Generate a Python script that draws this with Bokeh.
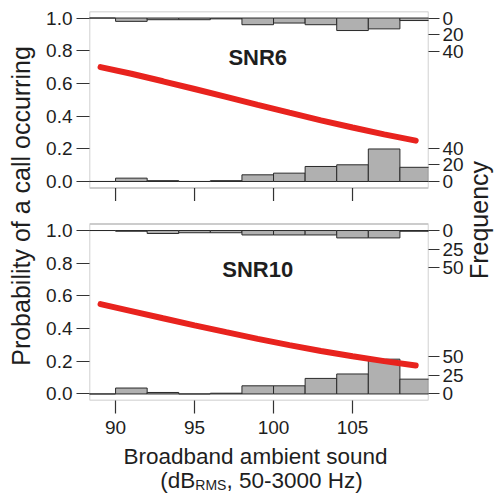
import math
from bokeh.plotting import figure
from bokeh.layouts import column, row
from bokeh.models import FixedTicker, LinearAxis, Range1d, BoxAnnotation, Label
from bokeh.embed import file_html
from bokeh.resources import INLINE

# ---------------- data ----------------
bin_edges = [88, 90, 92, 94, 96, 98, 100, 102, 104, 106, 108, 110]
snr6_no_call = [0, 4, 1, 0, 1, 8, 10, 18, 20, 39, 17]
snr6_call = [0, 4, 2, 2, 1, 8, 6, 8, 15, 13, 3]
snr10_no_call = [0, 8, 2, 0, 1, 11, 11, 21, 27, 47, 20]
snr10_call = [0, 1, 4, 3, 3, 6, 6, 6, 10, 10, 1]
curve_x = [89.05, 91, 93, 95, 97, 99, 101, 103, 105, 107, 109]
snr6_prob = [0.70, 0.659, 0.613, 0.566, 0.518, 0.469, 0.421, 0.374, 0.330, 0.288, 0.250]
snr10_prob = [0.55, 0.507, 0.463, 0.420, 0.378, 0.337, 0.299, 0.263, 0.231, 0.201, 0.174]
x_ticks = [90, 95, 100, 105]
prob_ticks = [0.0, 0.2, 0.4, 0.6, 0.8, 1.0]
snr6_freq_ticks = [0, 20, 40]
snr10_freq_ticks = [0, 25, 50]
panel_names = ["SNR6", "SNR10"]
y_title = "Probability of a call occurring"
y2_title = "Frequency"
x_title_1 = "Broadband ambient sound"
x_title_2 = ["(dB", "RMS", ", 50-3000 Hz)"]

# ---------------- layout constants (page pixels) ----------------
PW, PH = 494, 497
MW, MH = 466, 444          # main figure
FL, FT, FW, FH = 89, 11, 339, 389
X0, X1 = 88.35, 109.81
Y0, Y1 = -0.04, 2.34
OFF = 1.30                 # vertical offset of the upper panel
K6, K10 = 0.0051, 0.00453  # histogram count -> probability scale
FONT = "Liberation Sans"
TXT = "#1e1e1e"
AX = "#333333"


def style_axis(a, tick_out, standoff):
    a.major_tick_out = tick_out
    a.major_tick_in = 0
    a.minor_tick_out = 0
    a.minor_tick_in = 0
    a.axis_line_color = None
    a.major_tick_line_color = AX
    a.major_tick_line_width = 1.2
    a.major_label_text_font = FONT
    a.major_label_text_font_size = "19px"
    a.major_label_text_color = TXT
    a.major_label_standoff = standoff


p = figure(width=MW, height=MH, x_range=Range1d(X0, X1), y_range=Range1d(Y0, Y1),
           output_backend="svg", toolbar_location=None, title=None,
           min_border_left=FL, min_border_right=MW - FL - FW,
           min_border_top=FT, min_border_bottom=MH - FT - FH)
p.grid.visible = False
p.outline_line_color = None

# bottom x axis
xa = p.xaxis[0]
xa.ticker = FixedTicker(ticks=x_ticks)
style_axis(xa, 13, 7)

# left y axis
lt, lo = [], {}
for off in (0.0, OFF):
    for t in prob_ticks:
        v = round(t + off, 6)
        lt.append(v)
        lo[v] = f"{t:.1f}"
ya = p.yaxis[0]
ya.ticker = FixedTicker(ticks=lt)
ya.major_label_overrides = lo
style_axis(ya, 13, 4)
ya.axis_label = y_title
ya.axis_label_text_font = FONT
ya.axis_label_text_font_size = "25px"
ya.axis_label_text_font_style = "normal"
ya.axis_label_text_color = TXT
ya.axis_label_standoff = 8

# right frequency axis
rt, ro = [], {}
for off, k, ticks in ((OFF, K6, snr6_freq_ticks), (0.0, K10, snr10_freq_ticks)):
    for c in ticks:
        v1 = round(off + c * k, 6)
        v2 = round(off + 1 - c * k, 6)
        rt += [v1, v2]
        ro[v1] = str(c)
        ro[v2] = str(c)
ra = LinearAxis(ticker=FixedTicker(ticks=rt), major_label_overrides=ro)
style_axis(ra, 11, 3)
p.add_layout(ra, "right")

# panels
panels = [
    (OFF, K6, snr6_no_call, snr6_call, snr6_prob, panel_names[0]),
    (0.0, K10, snr10_no_call, snr10_call, snr10_prob, panel_names[1]),
]
for off, k, no_call, call, prob, name in panels:
    p.quad(left=bin_edges[:-1], right=bin_edges[1:],
           bottom=[off] * len(no_call), top=[off + c * k for c in no_call],
           fill_color="#b0b0b0", line_color="#2a2a2a", line_width=1)
    p.quad(left=bin_edges[:-1], right=bin_edges[1:],
           top=[off + 1] * len(call), bottom=[off + 1 - c * k for c in call],
           fill_color="#b0b0b0", line_color="#2a2a2a", line_width=1)
    p.line(curve_x, [off + v for v in prob], line_color="#e8231e", line_width=6,
           line_cap="round")
    p.add_layout(BoxAnnotation(bottom=off - 0.04, top=off + 1.04, fill_color=None,
                               line_color="#222222", line_width=1.4))
    p.add_layout(Label(x=99.0, y=off + 0.76, text=name, text_font=FONT,
                       text_font_size="22px", text_font_style="bold",
                       text_color=TXT, text_align="center", text_baseline="middle"))

# tick marks under the upper panel
tick_len = 13 * (Y1 - Y0) / FH
p.segment(x0=x_ticks, x1=x_ticks, y0=[OFF - 0.04] * len(x_ticks),
          y1=[OFF - 0.04 - tick_len] * len(x_ticks), line_color=AX, line_width=1.2)


def text_fig(w, h):
    f = figure(width=w, height=h, x_range=Range1d(0, w), y_range=Range1d(0, h),
               output_backend="svg", toolbar_location=None, title=None,
               x_axis_location=None, y_axis_location=None,
               min_border=0, min_border_left=0, min_border_right=0,
               min_border_top=0, min_border_bottom=0)
    f.grid.visible = False
    f.outline_line_color = None
    return f


# right strip with the rotated "Frequency" title
SW = PW - MW
strip = text_fig(SW, MH)
strip.add_layout(Label(x=478 - MW, y=MH - 238, angle=math.pi / 2, text=y2_title,
                       text_font=FONT, text_font_size="25px", text_color=TXT,
                       text_align="center", text_baseline="middle"))

# bottom strip with the x title (two lines, subscript)
BH = PH - MH
bot = text_fig(PW, BH)
line1_base = 456
bot.add_layout(Label(x=255, y=PH - line1_base, text=x_title_1, text_font=FONT,
                     text_font_size="22.5px", text_color=TXT,
                     text_align="center", text_baseline="alphabetic"))
fs_main, fs_sub = 22.5, 14
w1 = 1.556 * fs_main
w2 = 2.222 * fs_sub
w3 = 6.058 * fs_main
start = 261 - (w1 + w2 + w3) / 2
base = 480
bot.add_layout(Label(x=start, y=PH - base, text=x_title_2[0], text_font=FONT,
                     text_font_size=f"{fs_main}px", text_color=TXT,
                     text_align="left", text_baseline="alphabetic"))
bot.add_layout(Label(x=start + w1, y=PH - (base + 4), text=x_title_2[1], text_font=FONT,
                     text_font_size=f"{fs_sub}px", text_color=TXT,
                     text_align="left", text_baseline="alphabetic"))
bot.add_layout(Label(x=start + w1 + w2, y=PH - base, text=x_title_2[2],
                     text_font=FONT, text_font_size=f"{fs_main}px", text_color=TXT,
                     text_align="left", text_baseline="alphabetic"))

layout = column(row(p, strip, spacing=0), bot, spacing=0)
open("out.html", "w").write(file_html(layout, INLINE))
